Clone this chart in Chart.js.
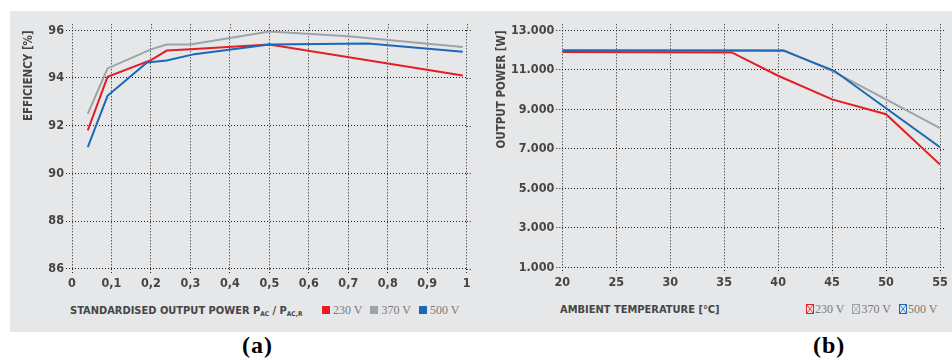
<!DOCTYPE html>
<html>
<head>
<meta charset="utf-8">
<script src="https://cdn.jsdelivr.net/npm/chart.js@4.4.1/dist/chart.umd.min.js"></script>
<style>
  body { margin: 0; width: 952px; height: 361px; background: #fff; position: relative; overflow: hidden; }
  #panel { position: absolute; left: 10px; top: 11px; width: 942px; height: 321px; background: #e6e7e8; }
  .wrap { position: absolute; top: 0; width: 476px; height: 300px; }
  .xtitle { position: absolute; font: bold 11px "DejaVu Sans Condensed", sans-serif; color: #454545; white-space: nowrap; }
  .xtitle sub { font-size: 6.5px; vertical-align: -2px; }
  .legend { position: absolute; font: 12px "Liberation Serif", serif; color: #7a7a7a; white-space: nowrap; }
  .legend span { display: inline-block; margin-right: 8px; }
  .sq { display: inline-block; width: 8px; height: 8px; margin-right: 3px; vertical-align: 0px; }
  .legend svg { vertical-align: -1px; margin-right: 1px; }
  .cap { position: absolute; font: bold 24px "Liberation Serif", serif; color: #000; letter-spacing: 1px; }
</style>
</head>
<body>
<div id="panel"></div>
<div class="wrap" style="left:0"><canvas id="effChart"></canvas></div>
<div class="wrap" style="left:476px"><canvas id="powChart"></canvas></div>

<div class="xtitle" style="left:70px; top:304px">STANDARDISED OUTPUT POWER P<sub>AC</sub> / P<sub>AC,R</sub></div>
<div class="legend" style="left:322px; top:303px">
  <span><i class="sq" style="background:#e31e24"></i>230 V</span><span><i class="sq" style="background:#9ea3a8"></i>370 V</span><span><i class="sq" style="background:#1b68b6"></i>500 V</span>
</div>

<div class="xtitle" style="left:560px; top:303px">AMBIENT TEMPERATURE [°C]</div>
<div class="legend" style="left:806px; top:302px">
  <span><svg width="8" height="10"><rect x="0.5" y="0.5" width="7" height="9" fill="none" stroke="#e31e24"/><path d="M1 1L7 9M7 1L1 9" stroke="#e31e24" stroke-width="0.8"/></svg>230 V</span><span><svg width="8" height="10"><rect x="0.5" y="0.5" width="7" height="9" fill="none" stroke="#9ea3a8"/><path d="M1 1L7 9M7 1L1 9" stroke="#9ea3a8" stroke-width="0.8"/></svg>370 V</span><span><svg width="8" height="10"><rect x="0.5" y="0.5" width="7" height="9" fill="none" stroke="#1b68b6"/><path d="M1 1L7 9M7 1L1 9" stroke="#1b68b6" stroke-width="0.8"/></svg>500 V</span>
</div>

<div class="cap" style="left:242px; top:332px">(a)</div>
<div class="cap" style="left:813px; top:332px">(b)</div>

<script>
// efficiency vs. standardised output power
const effLoad230 = [0.04, 0.09, 0.2, 0.24, 0.3, 0.5, 0.99];
const eff230 = [91.8, 94.05, 94.75, 95.15, 95.2, 95.4, 94.1];
const effLoad370 = [0.04, 0.09, 0.2, 0.24, 0.3, 0.5, 0.7, 0.99];
const eff370 = [92.5, 94.4, 95.2, 95.4, 95.4, 95.95, 95.75, 95.3];
const effLoad500 = [0.04, 0.09, 0.19, 0.24, 0.31, 0.5, 0.75, 0.99];
const eff500 = [91.1, 93.25, 94.65, 94.73, 95.0, 95.4, 95.45, 95.1];

// output power derating vs. ambient temperature
const temp230 = [20, 35.7, 40, 45, 50, 55];
const pow230 = [11900, 11880, 10700, 9500, 8750, 6200];
const temp370 = [20, 40.5, 45, 50, 55];
const pow370 = [12000, 12000, 10950, 9500, 8050];
const temp500 = [20, 40.5, 45.2, 50, 55];
const pow500 = [11980, 11970, 10950, 9050, 7080];

const RED = "#e31e24", GREY = "#9ea3a8", BLUE = "#1b68b6";
const GRID = "#1e1e1e";
const tickFont = { family: "DejaVu Sans Condensed", weight: "bold", size: 12.5 };

const toPoints = (xs, ys) => xs.map((x, i) => ({ x: x, y: ys[i] }));

const line = (label, xs, ys, color, order) => ({
  label, data: toPoints(xs, ys), borderColor: color, backgroundColor: color,
  borderWidth: 2, pointRadius: 0, tension: 0, order,
});

// dotted grid runs a few px past the top and right edges
const gridOverhang = {
  id: "gridOverhang",
  beforeDatasetsDraw(chart) {
    const { ctx, chartArea: a, scales } = chart;
    ctx.save();
    ctx.strokeStyle = GRID;
    ctx.lineWidth = 1;
    ctx.setLineDash([1, 2]);
    ctx.beginPath();
    scales.x.ticks.forEach(t => {
      const px = Math.round(scales.x.getPixelForValue(t.value)) + 0.5;
      ctx.moveTo(px, a.top - 6); ctx.lineTo(px, a.top);
    });
    scales.y.ticks.forEach(t => {
      const py = Math.round(scales.y.getPixelForValue(t.value)) + 0.5;
      ctx.moveTo(a.right, py); ctx.lineTo(a.right + 6, py);
    });
    ctx.stroke();
    ctx.restore();
  },
};

const axis = (min, max, step, fmt, extra) => Object.assign({
  type: "linear", min, max,
  border: { display: false, dash: [1, 2] },
  grid: { color: GRID, lineWidth: 1, tickLength: 6, tickColor: GRID, tickBorderDash: [1, 2] },
  ticks: { stepSize: step, color: "#454545", font: tickFont, padding: 2, callback: fmt },
}, extra);

function makeChart(id, datasets, xAxis, yAxis, area, yTitle, titlePad) {
  const W = 476, H = 300;
  xAxis.afterFit = s => { s.height = H - area.bottom; };
  yAxis.afterFit = s => { s.width = area.left; };
  yAxis.title = {
    display: true, text: yTitle, align: "end", color: "#454545",
    font: { family: "DejaVu Sans Condensed", weight: "bold", size: 11.5 },
    padding: { top: titlePad, bottom: 0 },
  };
  return new Chart(document.getElementById(id), {
    type: "line",
    data: { datasets },
    options: {
      responsive: false, animation: false,
      layout: { padding: { left: 0, top: area.top, right: W - area.right, bottom: 0 } },
      plugins: { legend: { display: false }, tooltip: { enabled: false } },
      scales: { x: xAxis, y: yAxis },
    },
    plugins: [gridOverhang],
  });
}

for (const id of ["effChart", "powChart"]) {
  const c = document.getElementById(id);
  c.width = 476; c.height = 300;
}

makeChart("effChart", [
  line("230 V", effLoad230, eff230, RED, 1),
  line("370 V", effLoad370, eff370, GREY, 2),
  line("500 V", effLoad500, eff500, BLUE, 0),
],
  axis(0, 1, 0.1, v => String(Math.round(v * 10) / 10).replace(".", ",")),
  axis(86, 96, 2, v => String(v)),
  { left: 72, right: 466.7, top: 30.3, bottom: 268.7 },
  "EFFICIENCY [%]", 22);

makeChart("powChart", [
  line("230 V", temp230, pow230, RED, 1),
  line("370 V", temp370, pow370, GREY, 2),
  line("500 V", temp500, pow500, BLUE, 0),
],
  axis(20, 55, 5, v => String(v)),
  axis(1000, 13000, 2000, v => (v / 1000).toFixed(3)),
  { left: 86.3, right: 464, top: 30.3, bottom: 267.3 },
  "OUTPUT POWER [W]", 19.5);
</script>
</body>
</html>
